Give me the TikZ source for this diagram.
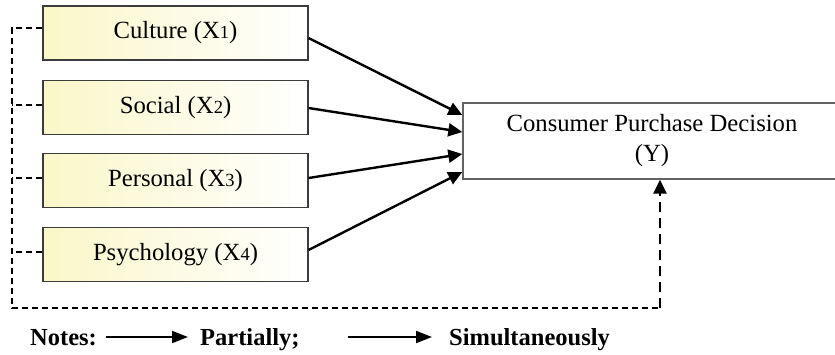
\documentclass[tikz,border=0pt]{standalone}
\usepackage{fontspec}
\setmainfont{Liberation Serif}
\usetikzlibrary{arrows.meta,calc}
\definecolor{boxyellow}{RGB}{250,247,200}
\definecolor{edgegray}{RGB}{60,60,60}
\newcommand{\subd}[1]{{\fontsize{18.5}{20}\selectfont #1}}
\begin{document}
\begin{tikzpicture}[x=1pt,y=-1pt,
  factorbox/.style={draw=edgegray,line width=1.1pt,left color=boxyellow,right color=white,
    minimum width=265pt,minimum height=54pt,inner sep=0pt,font=\fontsize{24.7}{30}\selectfont},
  outbox/.style={draw=edgegray!80,line width=1.4pt,fill=white,minimum width=378pt,minimum height=76pt,
    inner sep=0pt,align=center,font=\fontsize{24.7}{30}\selectfont},
  partarrow/.style={line width=2.4pt,-{Triangle[length=14pt,width=13pt]}},
  legarrow/.style={line width=2pt,-{Triangle[length=16pt,width=12pt]}},
  thindash/.style={line width=1.5pt,dash pattern=on 6pt off 4pt},
  thickdash/.style={line width=2.5pt,dash pattern=on 10pt off 6pt,-{Triangle[length=14pt,width=13pt]}},
  legtext/.style={anchor=base west,inner sep=0pt,font=\fontsize{24.5}{28}\selectfont\bfseries}]
\useasboundingbox[clip] (0,0) rectangle (835,354);

\node[factorbox] (c1) at (175.5,33) {Culture (X\subd{1})};
\node[factorbox] (c2) at (175.5,107.5) {Social (X\subd{2})};
\node[factorbox] (c3) at (175.5,180.5) {Personal (X\subd{3})};
\node[factorbox] (c4) at (175.5,254.5) {Psychology (X\subd{4})};

\node[outbox] (y) at (652,141) {Consumer Purchase Decision\\(Y)};

\draw[partarrow] ([yshift=-5pt]c1.east) -- ([yshift=26pt]y.west);
\draw[partarrow] ([yshift=-0.5pt]c2.east) -- ([yshift=9pt]y.west);
\draw[partarrow] ([yshift=2.5pt]c3.east) -- ([yshift=-13pt]y.west);
\draw[partarrow] ([yshift=4.5pt]c4.east) -- ([yshift=-31pt]y.west);

\coordinate (lt) at (12,28);
\coordinate (lb) at (12,308);
\coordinate (rb) at (660,308);
\draw[thindash] ([yshift=5pt]c1.west) -- (lt) -- (lb) -- (rb);
\draw[thindash] ([yshift=2.5pt]c2.west) -- (12,105);
\draw[thindash] ([yshift=2.5pt]c3.west) -- (12,178);
\draw[thindash] ([yshift=2.5pt]c4.west) -- (12,252);
\draw[thickdash] (rb) -- (y.south -| rb);

\node[legtext] (n1) at (30,345) {Notes:};
\coordinate (a1s) at (106,337);
\coordinate (a1e) at (188,337);
\draw[legarrow] (a1s) -- (a1e);
\node[legtext] (n2) at (200,345) {Partially;};
\coordinate (a2s) at (348,337);
\coordinate (a2e) at (432,337);
\draw[legarrow] (a2s) -- (a2e);
\node[legtext] (n3) at (449,345) {Simultaneously};
\end{tikzpicture}
\end{document}
